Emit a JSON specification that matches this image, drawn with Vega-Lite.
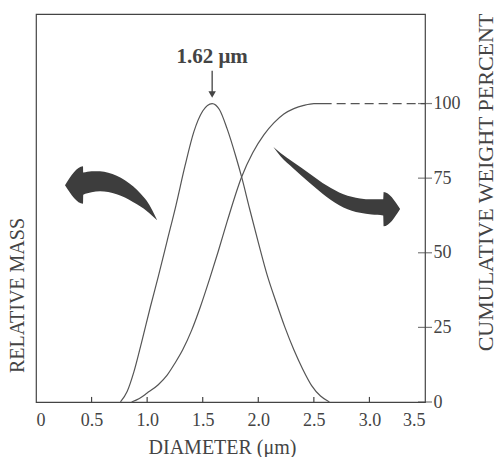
{
  "$schema": "https://vega.github.io/schema/vega-lite/v6.json",
  "width": 389,
  "height": 388,
  "autosize": {"type": "none"},
  "padding": {"left": 36, "top": 14, "right": 71, "bottom": 55},
  "background": "white",
  "config": {
    "view": {"stroke": "#444", "strokeWidth": 1.2},
    "font": "Liberation Serif",
    "axis": {
      "labelFont": "Liberation Serif",
      "titleFont": "Liberation Serif",
      "labelColor": "#444",
      "titleColor": "#444",
      "titleFontWeight": "normal",
      "labelFontSize": 18,
      "titleFontSize": 20,
      "domainColor": "#444",
      "tickColor": "#444",
      "grid": false
    }
  },
  "datasets": {
    "mass": [
      {"d": 0.76, "v": 0},
      {"d": 0.82, "v": 3.5},
      {"d": 0.88, "v": 10},
      {"d": 0.95, "v": 20},
      {"d": 1.03, "v": 32},
      {"d": 1.1, "v": 42},
      {"d": 1.18, "v": 54},
      {"d": 1.26, "v": 66},
      {"d": 1.34, "v": 79},
      {"d": 1.42, "v": 90.5},
      {"d": 1.5, "v": 97.5},
      {"d": 1.585, "v": 100},
      {"d": 1.65, "v": 98},
      {"d": 1.72, "v": 91.5},
      {"d": 1.8, "v": 82},
      {"d": 1.85, "v": 75.4},
      {"d": 1.92, "v": 65},
      {"d": 2.0, "v": 53.5},
      {"d": 2.08, "v": 42.5},
      {"d": 2.16, "v": 33.5},
      {"d": 2.24, "v": 25},
      {"d": 2.32, "v": 17.5},
      {"d": 2.4, "v": 11},
      {"d": 2.48, "v": 5.5},
      {"d": 2.56, "v": 2},
      {"d": 2.64, "v": 0}
    ],
    "cum": [
      {"d": 0.86, "v": 0},
      {"d": 0.93, "v": 1.2},
      {"d": 1.0, "v": 3},
      {"d": 1.1, "v": 5.8},
      {"d": 1.18, "v": 9},
      {"d": 1.25, "v": 13},
      {"d": 1.32, "v": 17.5},
      {"d": 1.4, "v": 24},
      {"d": 1.48, "v": 32},
      {"d": 1.56, "v": 41},
      {"d": 1.64, "v": 50.5},
      {"d": 1.72, "v": 60.5},
      {"d": 1.85, "v": 75.4},
      {"d": 1.95, "v": 83.5},
      {"d": 2.05, "v": 89.5},
      {"d": 2.14, "v": 93.5},
      {"d": 2.23, "v": 96.5},
      {"d": 2.32, "v": 98.3},
      {"d": 2.41, "v": 99.4},
      {"d": 2.5, "v": 100},
      {"d": 2.66, "v": 100}
    ],
    "plateau": [
      {"d": 2.66, "v": 100},
      {"d": 3.5, "v": 100}
    ],
    "leftArrow": [
      {"d": 0.261, "top": 72.6, "bot": 72.6},
      {"d": 0.423, "top": 79.0, "bot": 66.4},
      {"d": 0.425, "top": 76.9, "bot": 69.4},
      {"d": 0.5, "top": 77.3, "bot": 70.3},
      {"d": 0.576, "top": 77.3, "bot": 70.6},
      {"d": 0.65, "top": 76.8, "bot": 70.4},
      {"d": 0.726, "top": 75.8, "bot": 69.6},
      {"d": 0.8, "top": 74.3, "bot": 68.5},
      {"d": 0.876, "top": 72.2, "bot": 66.9},
      {"d": 0.94, "top": 69.9, "bot": 65.5},
      {"d": 0.996, "top": 67.4, "bot": 64.0},
      {"d": 1.045, "top": 64.3, "bot": 62.4},
      {"d": 1.09, "top": 60.9, "bot": 60.9}
    ],
    "rightArrow": [
      {"d": 2.136, "top": 85.4, "bot": 85.4},
      {"d": 2.2, "top": 83.4, "bot": 82.3},
      {"d": 2.316, "top": 80.3, "bot": 78.2},
      {"d": 2.466, "top": 76.4, "bot": 73.3},
      {"d": 2.616, "top": 72.5, "bot": 68.7},
      {"d": 2.766, "top": 69.6, "bot": 65.2},
      {"d": 2.916, "top": 68.2, "bot": 63.4},
      {"d": 3.02, "top": 67.9, "bot": 62.8},
      {"d": 3.124, "top": 67.9, "bot": 62.5},
      {"d": 3.128, "top": 70.4, "bot": 58.9},
      {"d": 3.276, "top": 64.7, "bot": 64.7}
    ],
    "rightTicks": [
      {"p": 0}, {"p": 25}, {"p": 50}, {"p": 75}, {"p": 100}
    ],
    "xTicks": [
      {"t": 0.5}, {"t": 1}, {"t": 1.5}, {"t": 2}, {"t": 2.5}, {"t": 3}
    ],
    "peak": [
      {"d": 1.585, "label": "1.62 μm", "v": 113.6, "a0": 111, "a1": 103}
    ]
  },
  "layer": [
    {
      "data": {"name": "mass"},
      "mark": {"type": "line", "interpolate": "monotone", "color": "#555", "strokeWidth": 1.2},
      "encoding": {
        "x": {
          "field": "d", "type": "quantitative",
          "scale": {"domain": [0, 3.5], "nice": false},
          "axis": {
            "values": [0, 0.5, 1, 1.5, 2, 2.5, 3, 3.5],
            "labelExpr": "datum.value == 0 ? '0' : format(datum.value, '.1f')",
            "ticks": false,
            "labelPadding": 9,
            "domain": false,
            "title": "DIAMETER (μm)",
            "titleX": 186,
            "titleY": 51,
            "titleBaseline": "alphabetic"
          }
        },
        "y": {
          "field": "v", "type": "quantitative",
          "scale": {"domain": [0, 130], "nice": false},
          "axis": {
            "orient": "left",
            "labels": false,
            "ticks": false,
            "domain": false,
            "title": "RELATIVE MASS",
            "titleAngle": -90,
            "titleX": -19,
            "titleY": 281,
            "titleBaseline": "middle",
            "titleAlign": "center"
          }
        }
      }
    },
    {
      "data": {"name": "cum"},
      "mark": {"type": "line", "interpolate": "monotone", "color": "#555", "strokeWidth": 1.2},
      "encoding": {
        "x": {"field": "d", "type": "quantitative"},
        "y": {
          "field": "v", "type": "quantitative",
          "axis": {
            "orient": "right",
            "values": [0, 25, 50, 75, 100],
            "ticks": false,
            "domain": false,
            "labelPadding": 8,
            "labelBaseline": "middle",
            "title": "CUMULATIVE WEIGHT PERCENT",
            "titleFontSize": 22,
            "titleAngle": -90,
            "titleX": 60,
            "titleY": 168,
            "titleBaseline": "middle",
            "titleAlign": "center"
          }
        }
      }
    },
    {
      "data": {"name": "plateau"},
      "mark": {"type": "line", "color": "#555", "strokeWidth": 1.2, "strokeDash": [9, 5], "strokeDashOffset": 9},
      "encoding": {
        "x": {"field": "d", "type": "quantitative"},
        "y": {"field": "v", "type": "quantitative", "axis": null}
      }
    },
    {
      "data": {"name": "leftArrow"},
      "mark": {"type": "area", "color": "#3d3d3d", "opacity": 1, "interpolate": "monotone"},
      "encoding": {
        "x": {"field": "d", "type": "quantitative"},
        "y": {"field": "top", "type": "quantitative", "axis": null},
        "y2": {"field": "bot"}
      }
    },
    {
      "data": {"name": "rightArrow"},
      "mark": {"type": "area", "color": "#3d3d3d", "opacity": 1, "interpolate": "monotone"},
      "encoding": {
        "x": {"field": "d", "type": "quantitative"},
        "y": {"field": "top", "type": "quantitative", "axis": null},
        "y2": {"field": "bot"}
      }
    },
    {
      "data": {"name": "rightTicks"},
      "mark": {"type": "tick", "orient": "horizontal", "color": "#444", "size": 14, "thickness": 1.2},
      "encoding": {
        "x": {"datum": 3.5, "type": "quantitative"},
        "y": {"field": "p", "type": "quantitative", "axis": null}
      }
    },
    {
      "data": {"name": "xTicks"},
      "mark": {"type": "rule", "color": "#444", "strokeWidth": 1.2},
      "encoding": {
        "x": {"field": "t", "type": "quantitative"},
        "y": {"datum": 0, "type": "quantitative", "axis": null},
        "y2": {"datum": 1.7}
      }
    },
    {
      "data": {"name": "peak"},
      "mark": {"type": "text", "font": "Liberation Serif", "fontWeight": "bold", "fontSize": 21, "color": "#444", "baseline": "alphabetic"},
      "encoding": {
        "x": {"field": "d", "type": "quantitative"},
        "y": {"field": "v", "type": "quantitative", "axis": null},
        "text": {"field": "label"}
      }
    },
    {
      "data": {"name": "peak"},
      "mark": {"type": "rule", "color": "#444", "strokeWidth": 1.3},
      "encoding": {
        "x": {"field": "d", "type": "quantitative"},
        "y": {"field": "a0", "type": "quantitative", "axis": null},
        "y2": {"field": "a1"}
      }
    },
    {
      "data": {"name": "peak"},
      "mark": {"type": "point", "shape": "triangle-down", "filled": true, "color": "#444", "size": 55, "opacity": 1},
      "encoding": {
        "x": {"field": "d", "type": "quantitative"},
        "y": {"field": "a1", "type": "quantitative", "axis": null}
      }
    }
  ],
  "resolve": {"axis": {"y": "independent"}}
}
